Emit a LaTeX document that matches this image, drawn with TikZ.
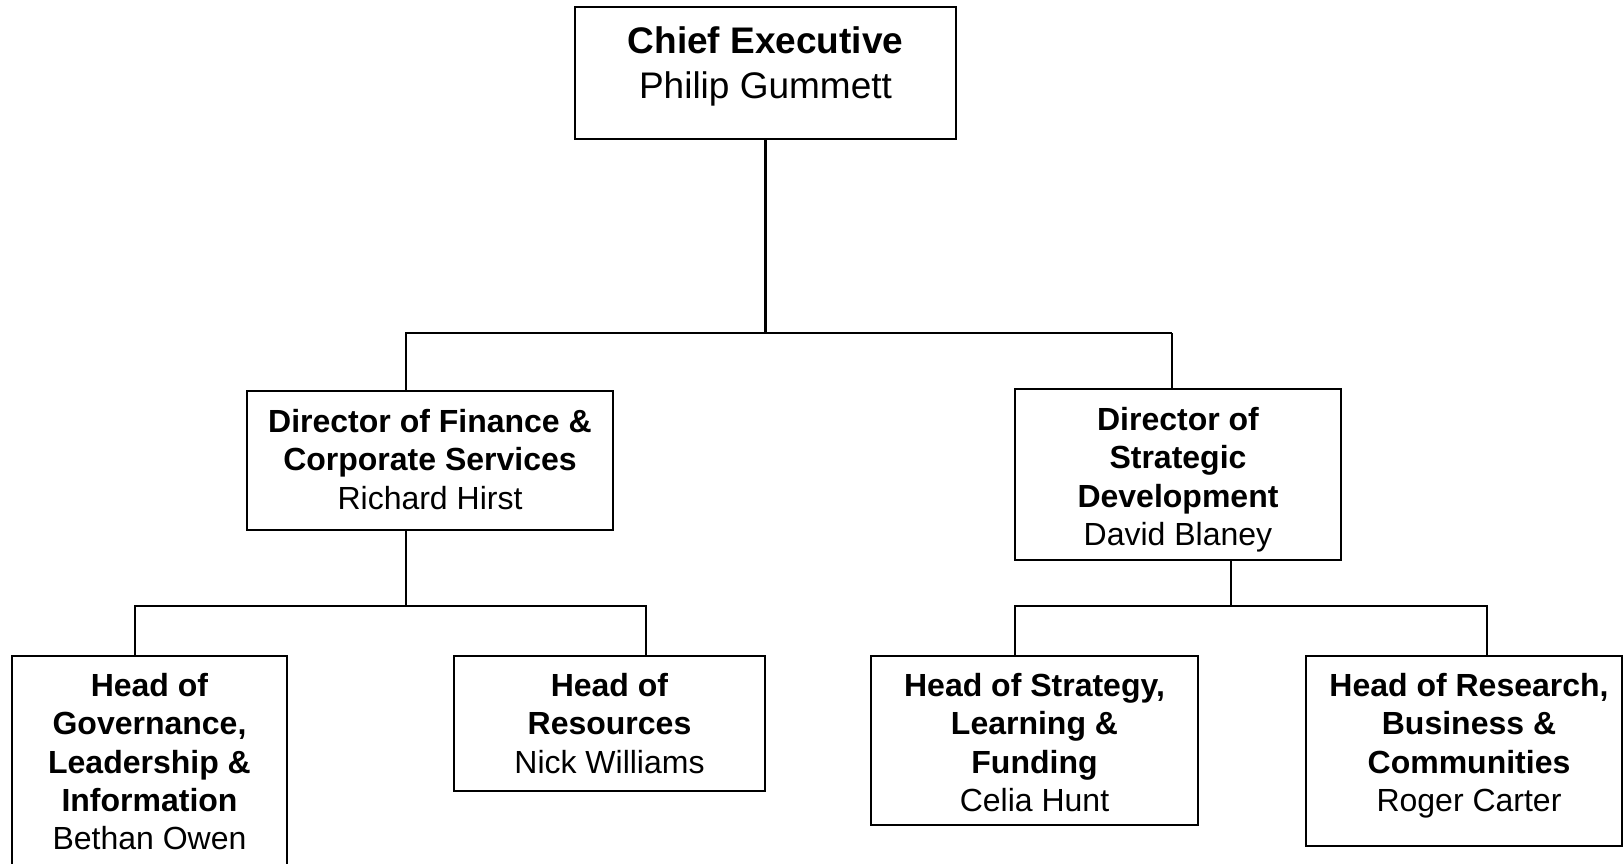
\documentclass[tikz,border=0pt]{standalone}
\usepackage{fontspec}
\setmainfont{Liberation Sans}
\begin{document}
\begin{tikzpicture}[x=1pt,y=-1pt,
  box/.style={draw=black, line width=1.5pt, rectangle, inner sep=0pt},
  txt/.style={anchor=north, inner sep=0pt, align=center, font=\fontsize{32}{38.2}\selectfont},
  bigtxt/.style={anchor=north, inner sep=0pt, align=center, font=\fontsize{37}{45}\selectfont},
  thinline/.style={line width=1.6pt},
  thickline/.style={line width=2.8pt}]
\useasboundingbox (0,0) rectangle (1624,864);
\fill[white] (0,0) rectangle (1624,864);
\clip (0,0) rectangle (1624,864);
% boxes
\node[box, minimum width=381pt, minimum height=132pt] (chief) at (765.5,73) {};
\node[box, minimum width=366pt, minimum height=139pt] (fin) at (430,460.5) {};
\node[box, minimum width=326pt, minimum height=171pt] (strat) at (1178,474.5) {};
\node[box, minimum width=275pt, minimum height=224pt] (gov) at (149.5,768) {};
\node[box, minimum width=311pt, minimum height=135pt] (res) at (609.5,723.5) {};
\node[box, minimum width=327pt, minimum height=169pt] (slf) at (1034.5,740.5) {};
\node[box, minimum width=316pt, minimum height=190pt] (rbc) at (1464,751) {};
% texts
\node[bigtxt] (chiefT) at ([yshift=-20.5pt]chief.north) {\textbf{Chief Executive}\\Philip Gummett};
\node[txt] (finT) at ([yshift=-19pt]fin.north) {\textbf{Director of Finance \&}\\\textbf{Corporate Services}\\Richard Hirst};
\node[txt] (stratT) at ([yshift=-19pt]strat.north) {\textbf{Director of}\\\textbf{Strategic}\\\textbf{Development}\\David Blaney};
\node[txt] (govT) at ([yshift=-18pt]gov.north) {\textbf{Head of}\\\textbf{Governance,}\\\textbf{Leadership \&}\\\textbf{Information}\\Bethan Owen};
\node[txt] (resT) at ([yshift=-18pt]res.north) {\textbf{Head of}\\\textbf{Resources}\\Nick Williams};
\node[txt] (slfT) at ([yshift=-18pt]slf.north) {\textbf{Head of Strategy,}\\\textbf{Learning \&}\\\textbf{Funding}\\Celia Hunt};
\node[txt] (rbcT) at ([xshift=5pt,yshift=-18pt]rbc.north) {\textbf{Head of Research,}\\\textbf{Business \&}\\\textbf{Communities}\\Roger Carter};
% junction coordinates
\coordinate (barL) at (406,333);
\coordinate (barR) at (1172,333);
\coordinate (finJ) at (406,606);
\coordinate (govJ) at (135,606);
\coordinate (resJ) at (646,606);
\coordinate (stratJ) at (1231,606);
\coordinate (slfJ) at (1015,606);
\coordinate (rbcJ) at (1487,606);
% connectors
\draw[thickline] (chief.south) -- (chief.south |- barL);
\draw[thickline] (barL |- fin.north) -- (barL) -- (barR);
\draw[thinline] (barR) -- (barR |- strat.north);
\draw[thinline] (finJ |- fin.south) -- (finJ);
\draw[thinline] (govJ |- gov.north) -- (govJ) -- (resJ) -- (resJ |- res.north);
\draw[thinline] (stratJ |- strat.south) -- (stratJ);
\draw[thinline] (slfJ |- slf.north) -- (slfJ) -- (rbcJ) -- (rbcJ |- rbc.north);
\end{tikzpicture}
\end{document}
